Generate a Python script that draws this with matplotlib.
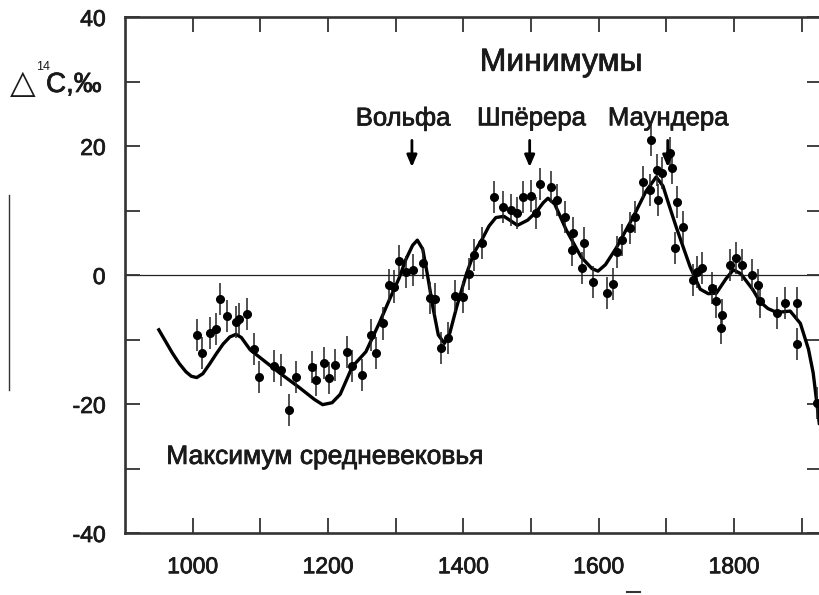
import matplotlib
matplotlib.use("Agg")
import matplotlib.pyplot as plt
import matplotlib.patheffects as pe
from matplotlib.lines import Line2D

plt.rcParams["font.family"] = ["Liberation Sans", "DejaVu Sans"]

# --------------------------------------------------------
# DATA
# --------------------------------------------------------
curve_year = [950, 960, 970, 980, 990, 998, 1006, 1015, 1025, 1035, 1045, 1055, 1064, 1072,
              1085, 1108, 1130, 1157, 1180, 1192, 1206, 1218, 1236, 1256, 1276, 1290,
              1305, 1315, 1325, 1332, 1340, 1347, 1355, 1363, 1372, 1380, 1390, 1404,
              1416, 1428, 1438, 1448, 1460, 1470, 1480, 1495, 1508, 1518, 1525, 1535,
              1552, 1574, 1590, 1599, 1610, 1626, 1651, 1670, 1685, 1695, 1705, 1715,
              1735, 1750, 1762, 1774, 1788, 1799, 1810, 1828, 1838, 1850, 1863, 1883,
              1898, 1910, 1917, 1926]
curve_val = [-8.5, -10.3, -12.1, -13.7, -15.0, -15.7, -15.9, -15.3, -13.8, -12.2, -10.7,
             -9.6, -9.2, -9.7, -11.6, -13.5, -15.3, -17.4, -19.3, -20.1, -19.8, -18.5,
             -14.2, -11.9, -7.4, -4.0, -0.5, 2.4, 4.6, 5.4, 4.0, 0.0, -5.0, -9.3, -10.6,
             -9.0, -5.0, 0.0, 3.5, 5.6, 7.6, 8.9, 9.1, 8.4, 7.7, 8.5, 9.8, 11.2, 11.9,
             11.0, 7.0, 2.8, 1.0, 0.6, 1.6, 4.2, 9.0, 13.0, 15.2, 13.8, 10.5, 7.3, 1.3,
             -2.2, -2.9, -2.8, -0.6, 0.8, 0.2, -2.3, -4.1, -5.2, -5.8, -5.6, -7.5, -11.5,
             -15.2, -23.0]

pt_year = [1006, 1014, 1026, 1034, 1041, 1051, 1064, 1069, 1080, 1090, 1098, 1120, 1130,
           1142, 1152, 1176, 1182, 1194, 1201, 1210, 1228, 1236, 1250, 1264, 1271, 1281,
           1290, 1298, 1305, 1315, 1325, 1340, 1351, 1358, 1367, 1377, 1387, 1400, 1409,
           1416, 1428, 1446, 1458, 1470, 1479, 1488, 1500, 1508, 1513, 1529, 1539, 1550,
           1562, 1560, 1579, 1575, 1592, 1612, 1621, 1627, 1634, 1646, 1653, 1665, 1678,
           1676, 1686, 1693, 1687, 1705, 1708, 1715, 1725, 1713, 1745, 1740, 1752, 1767,
           1774, 1782, 1781, 1794, 1803, 1812, 1827, 1836, 1838, 1863, 1876, 1893, 1893, 1923]
pt_val = [-9.3, -12.1, -9.0, -8.4, -3.7, -6.4, -7.3, -6.8, -6.0, -11.5, -15.8, -14.1,
          -14.7, -20.9, -15.8, -14.3, -16.3, -13.6, -16.0, -14.0, -11.9, -14.1, -15.5,
          -9.3, -12.1, -7.5, -1.6, -1.8, 2.2, 0.5, 0.8, 1.9, -3.6, -3.7, -11.3, -9.8,
          -3.3, -3.4, 0.2, 3.1, 5.0, 12.1, 10.5, 10.1, 9.6, 12.1, 12.2, 9.6, 14.1, 13.6,
          11.6, 9.0, 6.5, 3.9, 5.0, 1.1, -1.1, -2.8, -1.4, 3.6, 5.4, 7.3, 9.0, 14.4, 20.9,
          13.2, 16.3, 15.8, 11.6, 18.9, 16.6, 11.3, 7.5, 4.2, 0.5, -0.8, 1.1, -2.0, -4.1,
          -6.2, -8.2, 1.6, 2.6, 1.6, 0.0, -1.6, -4.1, -5.9, -4.3, -4.3, -10.7, -19.8]
pt_err = [2.5] * len(pt_year)

y_ticks = [-40, -20, 0, 20, 40]
y_minor = [-30, -10, 10, 30]
x_ticks = [1000, 1200, 1400, 1600, 1800]
x_minor = [1100, 1300, 1500, 1700, 1900]

minima_names = ["Вольфа", "Шпёрера", "Маундера"]
minima_text_year = [1311, 1501, 1703]
minima_arrow_year = [1324, 1498, 1702]

# slightly heavier text, like the scanned original
bold = [pe.withStroke(linewidth=0.55, foreground="#1a1a1a")]
TXT = "#1a1a1a"

# --------------------------------------------------------
# FIGURE
# --------------------------------------------------------
fig = plt.figure(figsize=(8.19, 5.95), dpi=100)
ax = fig.add_axes([125 / 819, 62 / 595, 697 / 819, 516 / 595])

ax.axhline(0, color="#222222", lw=0.9, zorder=1)
ax.plot(curve_year, curve_val, color="black", lw=2.4, zorder=3)
ax.errorbar(pt_year, pt_val, yerr=pt_err, fmt="o", color="black", ms=5.5,
            ecolor="#222222", elinewidth=1.1, capsize=0, zorder=4)

ax.set_xlim(900, 1930)
ax.set_ylim(-40, 40)
ax.set_xticks(x_ticks)
ax.set_xticks(x_minor, minor=True)
ax.set_yticks(y_ticks)
ax.set_yticks(y_minor, minor=True)
ax.set_yticklabels([str(v) for v in y_ticks])
ax.tick_params(which="both", direction="in", top=True, right=True,
               length=11, width=1.3, labelsize=16.5, color="#333333", labelcolor=TXT)
ax.tick_params(axis="y", pad=14)
ax.tick_params(axis="x", pad=16)
for lab in ax.get_xticklabels() + ax.get_yticklabels():
    lab.set_path_effects(bold)
for s in ax.spines.values():
    s.set_linewidth(1.9)
    s.set_color("#333333")

# y label
fig.text(10 / 819, 1 - 93 / 595, "△", fontsize=24, ha="left", va="baseline",
         family=["DejaVu Sans"], color=TXT)
fig.text(36 / 819, 1 - 70 / 595, "14", fontsize=9, ha="left", va="baseline", color=TXT)
fig.text(46 / 819, 1 - 92 / 595, "C,‰", fontsize=20, ha="left", va="baseline",
         color=TXT, path_effects=bold)

# annotations
ax.text(1545, 32.9, "Минимумы", fontsize=23, ha="center", va="center",
        color=TXT, path_effects=bold)
for name, tx, axr in zip(minima_names, minima_text_year, minima_arrow_year):
    ax.text(tx, 24.3, name, fontsize=18.5, ha="center", va="center",
            color=TXT, path_effects=bold)
    ax.annotate("", xy=(axr, 16.3), xytext=(axr, 21.3),
                arrowprops=dict(arrowstyle="-|>,head_length=0.7,head_width=0.3",
                                color="black", lw=2), zorder=5)
ax.text(961, -28.2, "Максимум средневековья", fontsize=19, ha="left", va="center",
        color=TXT, path_effects=bold)

# stray marks of the scan
fig.add_artist(Line2D([9 / 819, 9 / 819], [1 - 195 / 595, 1 - 390 / 595],
                      color="#333333", lw=1))
fig.add_artist(Line2D([627 / 819, 640 / 819], [1 - 592 / 595, 1 - 592 / 595],
                      color="#333333", lw=1.5))

fig.savefig("out.png", dpi=100)
